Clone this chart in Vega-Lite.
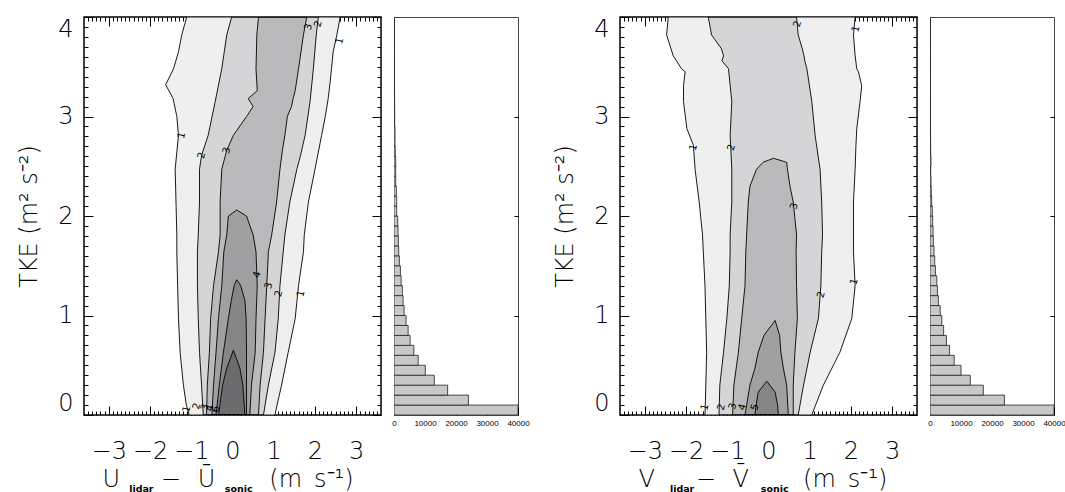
{
  "$schema": "https://vega.github.io/schema/vega-lite/v6.json",
  "padding": {"left": 16, "top": 15, "right": 0, "bottom": 0},
  "background": "#ffffff",
  "config": {
    "view": {"stroke": "#000", "strokeWidth": 1.5},
    "font": "DejaVu Sans",
    "axis": {"grid": false, "domain": false, "tickColor": "#000", "labelColor": "#000", "titleColor": "#000"}
  },
  "datasets": {
    "cU": [
      {"level":1,"tke":0,"xl":-1.05,"xr":1.03},{"level":1,"tke":0.1,"xl":-1.12,"xr":1.08},{"level":1,"tke":0.3,"xl":-1.19,"xr":1.19},{"level":1,"tke":0.63,"xl":-1.27,"xr":1.35},{"level":1,"tke":0.97,"xl":-1.31,"xr":1.52},{"level":1,"tke":1.3,"xl":-1.33,"xr":1.6},{"level":1,"tke":1.64,"xl":-1.35,"xr":1.72},{"level":1,"tke":1.81,"xl":-1.35,"xr":1.74},{"level":1,"tke":2.14,"xl":-1.37,"xr":1.84},{"level":1,"tke":2.47,"xl":-1.39,"xr":2.0},{"level":1,"tke":2.81,"xl":-1.31,"xr":2.16},{"level":1,"tke":3.0,"xl":-1.35,"xr":2.25},{"level":1,"tke":3.18,"xl":-1.44,"xr":2.32},{"level":1,"tke":3.32,"xl":-1.62,"xr":2.36},{"level":1,"tke":3.48,"xl":-1.43,"xr":2.4},{"level":1,"tke":3.65,"xl":-1.31,"xr":2.44},{"level":1,"tke":3.82,"xl":-1.23,"xr":2.53},{"level":1,"tke":4.0,"xl":-1.11,"xr":2.61},
      {"level":2,"tke":0,"xl":-0.71,"xr":0.75},{"level":2,"tke":0.3,"xl":-0.75,"xr":0.87},{"level":2,"tke":0.63,"xl":-0.8,"xr":1.03},{"level":2,"tke":0.97,"xl":-0.83,"xr":1.11},{"level":2,"tke":1.3,"xl":-0.85,"xr":1.15},{"level":2,"tke":1.64,"xl":-0.85,"xr":1.23},{"level":2,"tke":1.81,"xl":-0.83,"xr":1.27},{"level":2,"tke":2.14,"xl":-0.8,"xr":1.39},{"level":2,"tke":2.47,"xl":-0.8,"xr":1.56},{"level":2,"tke":2.61,"xl":-0.75,"xr":1.65},{"level":2,"tke":2.81,"xl":-0.59,"xr":1.76},{"level":2,"tke":3.15,"xl":-0.42,"xr":1.88},{"level":2,"tke":3.48,"xl":-0.26,"xr":1.96},{"level":2,"tke":3.82,"xl":-0.14,"xr":2.03},{"level":2,"tke":4.0,"xl":-0.02,"xr":2.08},
      {"level":3,"tke":0,"xl":-0.63,"xr":0.63},{"level":3,"tke":0.3,"xl":-0.61,"xr":0.67},{"level":3,"tke":0.63,"xl":-0.56,"xr":0.75},{"level":3,"tke":0.97,"xl":-0.53,"xr":0.79},{"level":3,"tke":1.3,"xl":-0.46,"xr":0.83},{"level":3,"tke":1.64,"xl":-0.34,"xr":0.87},{"level":3,"tke":1.81,"xl":-0.3,"xr":0.95},{"level":3,"tke":2.14,"xl":-0.3,"xr":1.07},{"level":3,"tke":2.47,"xl":-0.26,"xr":1.15},{"level":3,"tke":2.66,"xl":-0.14,"xr":1.21},{"level":3,"tke":2.81,"xl":0.02,"xr":1.27},{"level":3,"tke":3.0,"xl":0.34,"xr":1.33},{"level":3,"tke":3.1,"xl":0.5,"xr":1.43},{"level":3,"tke":3.18,"xl":0.38,"xr":1.47},{"level":3,"tke":3.26,"xl":0.6,"xr":1.52},{"level":3,"tke":3.48,"xl":0.57,"xr":1.6},{"level":3,"tke":3.82,"xl":0.59,"xr":1.72},{"level":3,"tke":4.0,"xl":0.63,"xr":1.8},
      {"level":4,"tke":0,"xl":-0.5,"xr":0.42},{"level":4,"tke":0.3,"xl":-0.46,"xr":0.46},{"level":4,"tke":0.63,"xl":-0.4,"xr":0.55},{"level":4,"tke":0.97,"xl":-0.34,"xr":0.57},{"level":4,"tke":1.3,"xl":-0.26,"xr":0.6},{"level":4,"tke":1.64,"xl":-0.21,"xr":0.57},{"level":4,"tke":1.81,"xl":-0.14,"xr":0.5},{"level":4,"tke":2.0,"xl":-0.1,"xr":0.34},{"level":4,"tke":2.06,"xl":0.1,"xr":0.1},
      {"level":5,"tke":0,"xl":-0.4,"xr":0.34},{"level":5,"tke":0.3,"xl":-0.32,"xr":0.34},{"level":5,"tke":0.63,"xl":-0.22,"xr":0.34},{"level":5,"tke":0.97,"xl":-0.1,"xr":0.33},{"level":5,"tke":1.15,"xl":-0.03,"xr":0.3},{"level":5,"tke":1.3,"xl":0.04,"xr":0.2},{"level":5,"tke":1.36,"xl":0.1,"xr":0.1},
      {"level":6,"tke":0,"xl":-0.34,"xr":0.3},{"level":6,"tke":0.3,"xl":-0.24,"xr":0.25},{"level":6,"tke":0.47,"xl":-0.14,"xr":0.18},{"level":6,"tke":0.65,"xl":0.02,"xr":0.02}
    ],
    "cV": [
      {"level":1,"tke":0,"xl":-1.54,"xr":1.05},{"level":1,"tke":0.13,"xl":-1.53,"xr":1.17},{"level":1,"tke":0.3,"xl":-1.52,"xr":1.33},{"level":1,"tke":0.63,"xl":-1.5,"xr":1.73},{"level":1,"tke":0.97,"xl":-1.52,"xr":2.02},{"level":1,"tke":1.3,"xl":-1.54,"xr":2.1},{"level":1,"tke":1.64,"xl":-1.58,"xr":2.06},{"level":1,"tke":1.81,"xl":-1.6,"xr":2.06},{"level":1,"tke":2.14,"xl":-1.68,"xr":2.06},{"level":1,"tke":2.47,"xl":-1.78,"xr":2.1},{"level":1,"tke":2.71,"xl":-1.82,"xr":2.12},{"level":1,"tke":2.88,"xl":-1.98,"xr":2.14},{"level":1,"tke":3.15,"xl":-2.06,"xr":2.22},{"level":1,"tke":3.31,"xl":-2.06,"xr":2.26},{"level":1,"tke":3.45,"xl":-2.02,"xr":2.18},{"level":1,"tke":3.48,"xl":-2.11,"xr":2.14},{"level":1,"tke":3.61,"xl":-2.31,"xr":2.1},{"level":1,"tke":3.82,"xl":-2.47,"xr":2.06},{"level":1,"tke":4.0,"xl":-2.43,"xr":2.1},
      {"level":2,"tke":0,"xl":-1.2,"xr":0.72},{"level":2,"tke":0.3,"xl":-1.18,"xr":0.85},{"level":2,"tke":0.63,"xl":-1.09,"xr":1.01},{"level":2,"tke":0.97,"xl":-1.01,"xr":1.21},{"level":2,"tke":1.3,"xl":-0.95,"xr":1.27},{"level":2,"tke":1.64,"xl":-0.93,"xr":1.29},{"level":2,"tke":1.81,"xl":-0.93,"xr":1.31},{"level":2,"tke":2.14,"xl":-0.89,"xr":1.29},{"level":2,"tke":2.47,"xl":-0.89,"xr":1.25},{"level":2,"tke":2.81,"xl":-0.93,"xr":1.13},{"level":2,"tke":3.15,"xl":-0.89,"xr":1.05},{"level":2,"tke":3.48,"xl":-0.97,"xr":0.93},{"level":2,"tke":3.56,"xl":-1.13,"xr":0.88},{"level":2,"tke":3.61,"xl":-1.09,"xr":0.86},{"level":2,"tke":3.68,"xl":-1.14,"xr":0.82},{"level":2,"tke":3.82,"xl":-1.38,"xr":0.72},{"level":2,"tke":4.0,"xl":-1.46,"xr":0.68},
      {"level":3,"tke":0,"xl":-0.87,"xr":0.6},{"level":3,"tke":0.3,"xl":-0.84,"xr":0.6},{"level":3,"tke":0.63,"xl":-0.73,"xr":0.64},{"level":3,"tke":0.97,"xl":-0.65,"xr":0.7},{"level":3,"tke":1.3,"xl":-0.57,"xr":0.68},{"level":3,"tke":1.64,"xl":-0.55,"xr":0.67},{"level":3,"tke":1.81,"xl":-0.53,"xr":0.68},{"level":3,"tke":2.14,"xl":-0.49,"xr":0.6},{"level":3,"tke":2.3,"xl":-0.45,"xr":0.52},{"level":3,"tke":2.47,"xl":-0.29,"xr":0.46},{"level":3,"tke":2.54,"xl":-0.13,"xr":0.44},{"level":3,"tke":2.58,"xl":0.12,"xr":0.12},
      {"level":4,"tke":0,"xl":-0.57,"xr":0.48},{"level":4,"tke":0.3,"xl":-0.45,"xr":0.44},{"level":4,"tke":0.47,"xl":-0.33,"xr":0.36},{"level":4,"tke":0.63,"xl":-0.25,"xr":0.3},{"level":4,"tke":0.8,"xl":-0.11,"xr":0.27},{"level":4,"tke":0.95,"xl":0.16,"xr":0.16},
      {"level":5,"tke":0,"xl":-0.33,"xr":0.24},{"level":5,"tke":0.1,"xl":-0.3,"xr":0.22},{"level":5,"tke":0.23,"xl":-0.25,"xr":0.16},{"level":5,"tke":0.34,"xl":-0.04,"xr":-0.04}
    ],
    "lU": [
      {"x":-1.23,"tke":2.81,"label":"1"},{"x":-0.75,"tke":2.61,"label":"2"},{"x":-0.14,"tke":2.66,"label":"3"},{"x":1.84,"tke":3.9,"label":"3"},{"x":2.08,"tke":3.93,"label":"2"},{"x":2.6,"tke":3.76,"label":"1"},{"x":0.6,"tke":1.41,"label":"4"},{"x":0.88,"tke":1.3,"label":"3"},{"x":1.12,"tke":1.22,"label":"2"},{"x":1.66,"tke":1.22,"label":"1"},{"x":-1.11,"tke":0.06,"label":"1"},{"x":-0.87,"tke":0.09,"label":"2"},{"x":-0.67,"tke":0.08,"label":"3"},{"x":-0.55,"tke":0.07,"label":"4"},{"x":-0.4,"tke":0.06,"label":"6"}
    ],
    "lV": [
      {"x":-1.82,"tke":2.69,"label":"1"},{"x":-0.9,"tke":2.69,"label":"2"},{"x":0.62,"tke":2.1,"label":"3"},{"x":0.7,"tke":3.93,"label":"2"},{"x":2.12,"tke":3.88,"label":"1"},{"x":1.28,"tke":1.21,"label":"2"},{"x":2.08,"tke":1.34,"label":"1"},{"x":-1.54,"tke":0.08,"label":"1"},{"x":-1.14,"tke":0.08,"label":"2"},{"x":-0.87,"tke":0.09,"label":"3"},{"x":-0.63,"tke":0.08,"label":"4"},{"x":-0.33,"tke":0.08,"label":"5"}
    ],
    "hU": [
      {"lo":0,"hi":0.1,"count":40000},{"lo":0.1,"hi":0.2,"count":24000},{"lo":0.2,"hi":0.3,"count":17300},{"lo":0.3,"hi":0.4,"count":13000},{"lo":0.4,"hi":0.5,"count":10100},{"lo":0.5,"hi":0.6,"count":7800},{"lo":0.6,"hi":0.7,"count":6400},{"lo":0.7,"hi":0.8,"count":5200},{"lo":0.8,"hi":0.9,"count":4560},{"lo":0.9,"hi":1.0,"count":3900},
      {"lo":1.0,"hi":1.1,"count":3260},{"lo":1.1,"hi":1.2,"count":2930},{"lo":1.2,"hi":1.3,"count":2700},{"lo":1.3,"hi":1.4,"count":2300},{"lo":1.4,"hi":1.5,"count":2070},{"lo":1.5,"hi":1.6,"count":1740},{"lo":1.6,"hi":1.7,"count":1520},{"lo":1.7,"hi":1.8,"count":1410},{"lo":1.8,"hi":1.9,"count":1300},{"lo":1.9,"hi":2.0,"count":1200},
      {"lo":2.0,"hi":2.1,"count":870},{"lo":2.1,"hi":2.2,"count":870},{"lo":2.2,"hi":2.3,"count":760},{"lo":2.3,"hi":2.4,"count":540},{"lo":2.4,"hi":2.5,"count":540},{"lo":2.5,"hi":2.6,"count":540},{"lo":2.6,"hi":2.7,"count":430},{"lo":2.7,"hi":2.8,"count":330},{"lo":2.8,"hi":2.9,"count":330},{"lo":2.9,"hi":3.0,"count":220},
      {"lo":3.0,"hi":3.1,"count":220},{"lo":3.1,"hi":3.2,"count":200},{"lo":3.2,"hi":3.3,"count":180},{"lo":3.3,"hi":3.4,"count":150},{"lo":3.4,"hi":3.5,"count":130},{"lo":3.5,"hi":3.6,"count":120},{"lo":3.6,"hi":3.7,"count":100},{"lo":3.7,"hi":3.8,"count":90},{"lo":3.8,"hi":3.9,"count":80},{"lo":3.9,"hi":4.0,"count":70}
    ],
    "hV": [
      {"lo":0,"hi":0.1,"count":40000},{"lo":0.1,"hi":0.2,"count":24000},{"lo":0.2,"hi":0.3,"count":17200},{"lo":0.3,"hi":0.4,"count":13000},{"lo":0.4,"hi":0.5,"count":10000},{"lo":0.5,"hi":0.6,"count":7800},{"lo":0.6,"hi":0.7,"count":6300},{"lo":0.7,"hi":0.8,"count":5300},{"lo":0.8,"hi":0.9,"count":4400},{"lo":0.9,"hi":1.0,"count":3800},
      {"lo":1.0,"hi":1.1,"count":3300},{"lo":1.1,"hi":1.2,"count":2700},{"lo":1.2,"hi":1.3,"count":2400},{"lo":1.3,"hi":1.4,"count":2200},{"lo":1.4,"hi":1.5,"count":1750},{"lo":1.5,"hi":1.6,"count":1520},{"lo":1.6,"hi":1.7,"count":1300},{"lo":1.7,"hi":1.8,"count":1080},{"lo":1.8,"hi":1.9,"count":980},{"lo":1.9,"hi":2.0,"count":870},
      {"lo":2.0,"hi":2.1,"count":760},{"lo":2.1,"hi":2.2,"count":540},{"lo":2.2,"hi":2.3,"count":430},{"lo":2.3,"hi":2.4,"count":330},{"lo":2.4,"hi":2.5,"count":220},{"lo":2.5,"hi":2.6,"count":330},{"lo":2.6,"hi":2.7,"count":220},{"lo":2.7,"hi":2.8,"count":200},{"lo":2.8,"hi":2.9,"count":180},{"lo":2.9,"hi":3.0,"count":150},
      {"lo":3.0,"hi":3.1,"count":130},{"lo":3.1,"hi":3.2,"count":120},{"lo":3.2,"hi":3.3,"count":100},{"lo":3.3,"hi":3.4,"count":90},{"lo":3.4,"hi":3.5,"count":80},{"lo":3.5,"hi":3.6,"count":70},{"lo":3.6,"hi":3.7,"count":60},{"lo":3.7,"hi":3.8,"count":50},{"lo":3.8,"hi":3.9,"count":50},{"lo":3.9,"hi":4.0,"count":40}
    ]
  },
  "spacing": 22,
  "hconcat": [
    {
      "spacing": 8,
      "hconcat": [
        {
          "width": 297, "height": 398,
          "layer": [
            {
              "data": {"name": "cU"},
              "mark": {"type": "area", "orient": "horizontal", "clip": true, "strokeWidth": 0},
              "encoding": {
                "y": {"field": "tke", "type": "quantitative", "scale": {"domain": [0, 4], "nice": false, "zero": false},
                  "axis": {"orient": "left", "values": [0, 1, 2, 3, 4], "format": "d", "tickSize": -9,
                    "labelOverlap": false, "labelFlush": true, "labelFont": "DejaVu Sans", "labelFontSize": 24, "labelFontWeight": 200, "labelPadding": 20,
                    "title": "TKE (m² s⁻²)", "titleFont": "DejaVu Sans", "titleFontSize": 24, "titleFontWeight": 200, "titlePadding": 16}},
                "x": {"field": "xl", "type": "quantitative", "stack": null, "scale": {"domain": [-3.6, 3.6], "nice": false, "zero": false},
                  "axis": {"orient": "bottom", "values": [-3, -2, -1, 0, 1, 2, 3], "format": "d", "tickSize": -9,
                    "labelOverlap": false, "labelFlush": false, "labelFont": "DejaVu Sans", "labelFontSize": 24, "labelFontWeight": 200, "labelPadding": 33,
                    "title": "\u200b\u2002\u2005U\u2003\u2002\u2009\u2212\u2002\u2009\u016a\u2003\u2003\u2005(m\u2002s\u207b\u00b9)", "titleFont": "DejaVu Sans", "titleFontSize": 24, "titleFontWeight": 200, "titleAnchor": "start", "titleAlign": "left", "titlePadding": 4}},
                "x2": {"field": "xr"},
                "fill": {"field": "level", "type": "ordinal", "scale": {"domain": [1,2,3,4,5,6], "range": ["#efeff0","#d5d5d7","#bababc","#a0a0a2","#868688","#6c6c6e"]}, "legend": null}
              }
            },
            {
              "data": {"name": "cU"},
              "mark": {"type": "area", "orient": "horizontal", "clip": true, "filled": false, "stroke": "#000", "strokeWidth": 0.9},
              "encoding": {
                "y": {"field": "tke", "type": "quantitative",
                  "axis": {"orient": "right", "values": [0, 1, 2, 3, 4], "labels": false, "title": null, "tickSize": -9}},
                "x": {"field": "xl", "type": "quantitative", "stack": null,
                  "axis": {"orient": "top", "values": [-3, -2, -1, 0, 1, 2, 3], "labels": false, "title": null, "tickSize": -9}},
                "x2": {"field": "xr"},
                "detail": {"field": "level", "type": "ordinal"}
              }
            },
            {
              "data": {"name": "lU"},
              "transform": [{"filter": "datum.tke >= 1"}],
              "mark": {"type": "text", "font": "DejaVu Sans", "fontSize": 10, "angle": 285, "fill": "#000"},
              "encoding": {
                "x": {"field": "x", "type": "quantitative",
                  "axis": {"orient": "bottom", "values": [-3.5,-3.4,-3.3,-3.2,-3.1,-3,-2.9,-2.8,-2.7,-2.6,-2.5,-2.4,-2.3,-2.2,-2.1,-2,-1.9,-1.8,-1.7,-1.6,-1.5,-1.4,-1.3,-1.2,-1.1,-1,-0.9,-0.8,-0.7,-0.6,-0.5,-0.4,-0.3,-0.2,-0.1,0,0.1,0.2,0.3,0.4,0.5,0.6,0.7,0.8,0.9,1,1.1,1.2,1.3,1.4,1.5,1.6,1.7,1.8,1.9,2,2.1,2.2,2.3,2.4,2.5,2.6,2.7,2.8,2.9,3,3.1,3.2,3.3,3.4,3.5],
                    "tickSize": -4, "labels": false,
                    "title": "\u200b\u2003\u2003\u2003\u2003\u2002\u2009lidar\u2003\u2003\u2003\u2003\u2003\u2003\u2003\u2002sonic", "titleFont": "DejaVu Sans", "titleFontSize": 9.5, "titleFontWeight": "bold", "titleAnchor": "start", "titleAlign": "left", "titlePadding": 68}},
                "y": {"field": "tke", "type": "quantitative",
                  "axis": {"orient": "left", "values": [0,0.1,0.2,0.3,0.4,0.5,0.6,0.7,0.8,0.9,1,1.1,1.2,1.3,1.4,1.5,1.6,1.7,1.8,1.9,2,2.1,2.2,2.3,2.4,2.5,2.6,2.7,2.8,2.9,3,3.1,3.2,3.3,3.4,3.5,3.6,3.7,3.8,3.9,4], "tickSize": -4, "labels": false, "title": null}},
                "text": {"field": "label"}
              }
            },
            {
              "data": {"name": "lU"},
              "transform": [{"filter": "datum.tke < 1"}],
              "mark": {"type": "text", "font": "DejaVu Sans", "fontSize": 10, "angle": 285, "fill": "#000"},
              "encoding": {
                "x": {"field": "x", "type": "quantitative",
                  "axis": {"orient": "top", "values": [-3.5,-3.4,-3.3,-3.2,-3.1,-3,-2.9,-2.8,-2.7,-2.6,-2.5,-2.4,-2.3,-2.2,-2.1,-2,-1.9,-1.8,-1.7,-1.6,-1.5,-1.4,-1.3,-1.2,-1.1,-1,-0.9,-0.8,-0.7,-0.6,-0.5,-0.4,-0.3,-0.2,-0.1,0,0.1,0.2,0.3,0.4,0.5,0.6,0.7,0.8,0.9,1,1.1,1.2,1.3,1.4,1.5,1.6,1.7,1.8,1.9,2,2.1,2.2,2.3,2.4,2.5,2.6,2.7,2.8,2.9,3,3.1,3.2,3.3,3.4,3.5],
                    "tickSize": -4, "labels": false, "title": null}},
                "y": {"field": "tke", "type": "quantitative",
                  "axis": {"orient": "right", "values": [0,0.1,0.2,0.3,0.4,0.5,0.6,0.7,0.8,0.9,1,1.1,1.2,1.3,1.4,1.5,1.6,1.7,1.8,1.9,2,2.1,2.2,2.3,2.4,2.5,2.6,2.7,2.8,2.9,3,3.1,3.2,3.3,3.4,3.5,3.6,3.7,3.8,3.9,4], "tickSize": -4, "labels": false, "title": null}},
                "text": {"field": "label"}
              }
            }
          ],
          "resolve": {"axis": {"x": "independent", "y": "independent"}}
        },
        {
          "width": 124, "height": 398,
          "view": {"stroke": "#444", "strokeWidth": 1},
          "data": {"name": "hU"},
          "mark": {"type": "bar", "fill": "#c8c8c8", "stroke": "#222", "strokeWidth": 0.8, "clip": true},
          "encoding": {
            "y": {"field": "lo", "type": "quantitative", "scale": {"domain": [0, 4], "nice": false, "zero": false},
              "axis": {"orient": "right", "values": [1, 2, 3], "labels": false, "tickSize": -4, "title": null}},
            "y2": {"field": "hi"},
            "x": {"field": "count", "type": "quantitative", "scale": {"domain": [0, 40000], "nice": false},
              "axis": {"values": [0, 10000, 20000, 30000, 40000], "format": "d", "tickSize": -8, "labelFont": "Liberation Sans", "labelFontSize": 8, "labelPadding": 12, "labelFlush": false, "labelOverlap": false, "title": null}},
            "x2": {"datum": 0}
          }
        }
      ]
    },
    {
      "spacing": 8,
      "hconcat": [
        {
          "width": 297, "height": 398,
          "layer": [
            {
              "data": {"name": "cV"},
              "mark": {"type": "area", "orient": "horizontal", "clip": true, "strokeWidth": 0},
              "encoding": {
                "y": {"field": "tke", "type": "quantitative", "scale": {"domain": [0, 4], "nice": false, "zero": false},
                  "axis": {"orient": "left", "values": [0, 1, 2, 3, 4], "format": "d", "tickSize": -9,
                    "labelOverlap": false, "labelFlush": true, "labelFont": "DejaVu Sans", "labelFontSize": 24, "labelFontWeight": 200, "labelPadding": 20,
                    "title": "TKE (m² s⁻²)", "titleFont": "DejaVu Sans", "titleFontSize": 24, "titleFontWeight": 200, "titlePadding": 16}},
                "x": {"field": "xl", "type": "quantitative", "stack": null, "scale": {"domain": [-3.6, 3.6], "nice": false, "zero": false},
                  "axis": {"orient": "bottom", "values": [-3, -2, -1, 0, 1, 2, 3], "format": "d", "tickSize": -9,
                    "labelOverlap": false, "labelFlush": false, "labelFont": "DejaVu Sans", "labelFontSize": 24, "labelFontWeight": 200, "labelPadding": 33,
                    "title": "\u200b\u2002\u2005V\u2003\u2002\u2009\u2212\u2002\u2009V\u0304\u2003\u2003\u2005(m\u2002s\u207b\u00b9)", "titleFont": "DejaVu Sans", "titleFontSize": 24, "titleFontWeight": 200, "titleAnchor": "start", "titleAlign": "left", "titlePadding": 4}},
                "x2": {"field": "xr"},
                "fill": {"field": "level", "type": "ordinal", "scale": {"domain": [1,2,3,4,5,6], "range": ["#efeff0","#d5d5d7","#bababc","#a0a0a2","#868688","#6c6c6e"]}, "legend": null}
              }
            },
            {
              "data": {"name": "cV"},
              "mark": {"type": "area", "orient": "horizontal", "clip": true, "filled": false, "stroke": "#000", "strokeWidth": 0.9},
              "encoding": {
                "y": {"field": "tke", "type": "quantitative",
                  "axis": {"orient": "right", "values": [0, 1, 2, 3, 4], "labels": false, "title": null, "tickSize": -9}},
                "x": {"field": "xl", "type": "quantitative", "stack": null,
                  "axis": {"orient": "top", "values": [-3, -2, -1, 0, 1, 2, 3], "labels": false, "title": null, "tickSize": -9}},
                "x2": {"field": "xr"},
                "detail": {"field": "level", "type": "ordinal"}
              }
            },
            {
              "data": {"name": "lV"},
              "transform": [{"filter": "datum.tke >= 1"}],
              "mark": {"type": "text", "font": "DejaVu Sans", "fontSize": 10, "angle": 285, "fill": "#000"},
              "encoding": {
                "x": {"field": "x", "type": "quantitative",
                  "axis": {"orient": "bottom", "values": [-3.5,-3.4,-3.3,-3.2,-3.1,-3,-2.9,-2.8,-2.7,-2.6,-2.5,-2.4,-2.3,-2.2,-2.1,-2,-1.9,-1.8,-1.7,-1.6,-1.5,-1.4,-1.3,-1.2,-1.1,-1,-0.9,-0.8,-0.7,-0.6,-0.5,-0.4,-0.3,-0.2,-0.1,0,0.1,0.2,0.3,0.4,0.5,0.6,0.7,0.8,0.9,1,1.1,1.2,1.3,1.4,1.5,1.6,1.7,1.8,1.9,2,2.1,2.2,2.3,2.4,2.5,2.6,2.7,2.8,2.9,3,3.1,3.2,3.3,3.4,3.5],
                    "tickSize": -4, "labels": false,
                    "title": "\u200b\u2003\u2003\u2003\u2003\u2003\u2009lidar\u2003\u2003\u2003\u2003\u2003\u2003\u2003sonic", "titleFont": "DejaVu Sans", "titleFontSize": 9.5, "titleFontWeight": "bold", "titleAnchor": "start", "titleAlign": "left", "titlePadding": 68}},
                "y": {"field": "tke", "type": "quantitative",
                  "axis": {"orient": "left", "values": [0,0.1,0.2,0.3,0.4,0.5,0.6,0.7,0.8,0.9,1,1.1,1.2,1.3,1.4,1.5,1.6,1.7,1.8,1.9,2,2.1,2.2,2.3,2.4,2.5,2.6,2.7,2.8,2.9,3,3.1,3.2,3.3,3.4,3.5,3.6,3.7,3.8,3.9,4], "tickSize": -4, "labels": false, "title": null}},
                "text": {"field": "label"}
              }
            },
            {
              "data": {"name": "lV"},
              "transform": [{"filter": "datum.tke < 1"}],
              "mark": {"type": "text", "font": "DejaVu Sans", "fontSize": 10, "angle": 285, "fill": "#000"},
              "encoding": {
                "x": {"field": "x", "type": "quantitative",
                  "axis": {"orient": "top", "values": [-3.5,-3.4,-3.3,-3.2,-3.1,-3,-2.9,-2.8,-2.7,-2.6,-2.5,-2.4,-2.3,-2.2,-2.1,-2,-1.9,-1.8,-1.7,-1.6,-1.5,-1.4,-1.3,-1.2,-1.1,-1,-0.9,-0.8,-0.7,-0.6,-0.5,-0.4,-0.3,-0.2,-0.1,0,0.1,0.2,0.3,0.4,0.5,0.6,0.7,0.8,0.9,1,1.1,1.2,1.3,1.4,1.5,1.6,1.7,1.8,1.9,2,2.1,2.2,2.3,2.4,2.5,2.6,2.7,2.8,2.9,3,3.1,3.2,3.3,3.4,3.5],
                    "tickSize": -4, "labels": false, "title": null}},
                "y": {"field": "tke", "type": "quantitative",
                  "axis": {"orient": "right", "values": [0,0.1,0.2,0.3,0.4,0.5,0.6,0.7,0.8,0.9,1,1.1,1.2,1.3,1.4,1.5,1.6,1.7,1.8,1.9,2,2.1,2.2,2.3,2.4,2.5,2.6,2.7,2.8,2.9,3,3.1,3.2,3.3,3.4,3.5,3.6,3.7,3.8,3.9,4], "tickSize": -4, "labels": false, "title": null}},
                "text": {"field": "label"}
              }
            }
          ],
          "resolve": {"axis": {"x": "independent", "y": "independent"}}
        },
        {
          "width": 124, "height": 398,
          "view": {"stroke": "#444", "strokeWidth": 1},
          "data": {"name": "hV"},
          "mark": {"type": "bar", "fill": "#c8c8c8", "stroke": "#222", "strokeWidth": 0.8, "clip": true},
          "encoding": {
            "y": {"field": "lo", "type": "quantitative", "scale": {"domain": [0, 4], "nice": false, "zero": false},
              "axis": {"orient": "right", "values": [1, 2, 3], "labels": false, "tickSize": -4, "title": null}},
            "y2": {"field": "hi"},
            "x": {"field": "count", "type": "quantitative", "scale": {"domain": [0, 40000], "nice": false},
              "axis": {"values": [0, 10000, 20000, 30000, 40000], "format": "d", "tickSize": -8, "labelFont": "Liberation Sans", "labelFontSize": 8, "labelPadding": 12, "labelFlush": false, "labelOverlap": false, "title": null}},
            "x2": {"datum": 0}
          }
        }
      ]
    }
  ]
}
